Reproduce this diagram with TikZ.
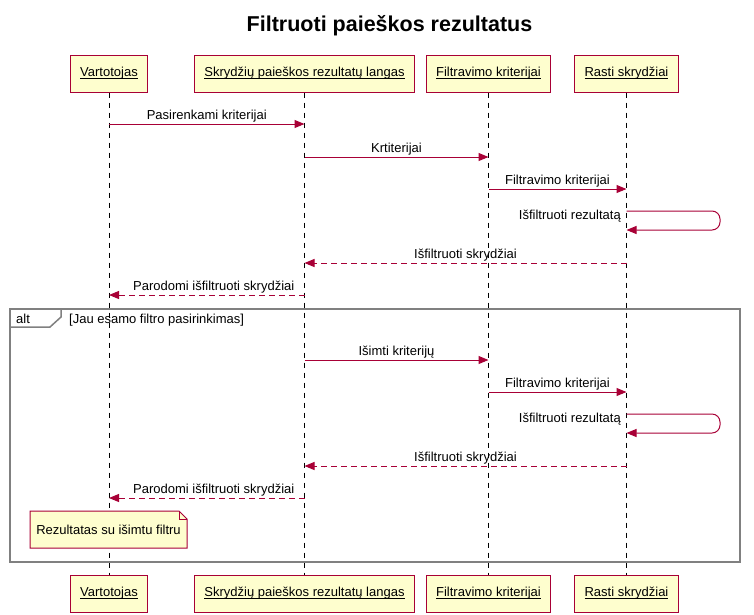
\documentclass[tikz,border=0pt]{standalone}
\usepackage{fontspec}
\setmainfont{Liberation Sans}
\usetikzlibrary{arrows.meta}
\definecolor{umlred}{HTML}{A80036}
\definecolor{umlyellow}{HTML}{FEFECE}
\definecolor{framegray}{HTML}{808080}
\newcommand{\ulab}[1]{\setbox0\hbox{#1}\rlap{\rule[-1.6pt]{\wd0}{0.8pt}}\box0}

\begin{document}
\begin{tikzpicture}[x=1pt,y=-1pt,
    every node/.style={font=\fontsize{13}{15}\selectfont},
    party/.style={draw=umlred,fill=umlyellow,line width=1pt,minimum height=37pt,inner xsep=10pt},
    lifeline/.style={dash pattern=on 5pt off 5pt,line width=1pt},
    msg/.style={-{Triangle[length=10pt,width=8pt]},umlred,line width=1pt},
    reply/.style={msg,dash pattern=on 6pt off 4pt},
    lbl/.style={anchor=base,yshift=4.5pt,text=black,inner sep=0pt},
    frame/.style={draw=framegray,line width=1.5pt}]
    \useasboundingbox (0,0) rectangle (754,614);
    \node[font=\fontsize{21.5}{25}\selectfont\bfseries,anchor=base,inner sep=0pt] (title) at (389.5,31) {Filtruoti paieškos rezultatus};
    % dalyviai
    \node[party] (V) at (109,73.5) {\ulab{Vartotojas}};
    \node[party] (S) at (304.5,73.5) {\ulab{Skrydžių paieškos rezultatų langas}};
    \node[party] (F) at (488.5,73.5) {\ulab{Filtravimo kriterijai}};
    \node[party] (R) at (626.5,73.5) {\ulab{Rasti skrydžiai}};
    \node[party] (Vb) at (109,593.5) {\ulab{Vartotojas}};
    \node[party] (Sb) at (304.5,593.5) {\ulab{Skrydžių paieškos rezultatų langas}};
    \node[party] (Fb) at (488.5,593.5) {\ulab{Filtravimo kriterijai}};
    \node[party] (Rb) at (626.5,593.5) {\ulab{Rasti skrydžiai}};
    \draw[lifeline] (V) -- (Vb);
    \draw[lifeline] (S) -- (Sb);
    \draw[lifeline] (F) -- (Fb);
    \draw[lifeline] (R) -- (Rb);
    % pranesimai
    \draw[msg] (V |- 0,124) -- node[lbl]{Pasirenkami kriterijai} (S |- 0,124);
    \draw[msg] (S |- 0,157) -- node[lbl]{Krtiterijai} (F |- 0,157);
    \draw[msg] (F |- 0,189) -- node[lbl]{Filtravimo kriterijai} (R |- 0,189);
    \draw[msg,rounded corners=8pt] (R |- 0,211) -- (720,211) -- (720,230) -- (R |- 0,230);
    \node[anchor=base east,inner sep=0pt] (L1) at (621,219) {Išfiltruoti rezultatą};
    \draw[reply] (R |- 0,263) -- node[lbl]{Išfiltruoti skrydžiai} (S |- 0,263);
    \draw[reply] (S |- 0,295) -- node[lbl,xshift=7pt]{Parodomi išfiltruoti skrydžiai} (V |- 0,295);
    % alt
    \draw[frame] (10,309) rectangle (740,562);
    \draw[frame] (10,327) -- (50,327) -- (61,317) -- (61,309);
    \node[anchor=base west,inner sep=0pt] (alt) at (16,323) {alt};
    \node[anchor=base west,inner sep=0pt] (cond) at (69,323) {[Jau esamo filtro pasirinkimas]};
    \draw[msg] (S |- 0,360) -- node[lbl]{Išimti kriterijų} (F |- 0,360);
    \draw[msg] (F |- 0,392) -- node[lbl]{Filtravimo kriterijai} (R |- 0,392);
    \draw[msg,rounded corners=8pt] (R |- 0,414) -- (720,414) -- (720,433) -- (R |- 0,433);
    \node[anchor=base east,inner sep=0pt] (L2) at (621,422) {Išfiltruoti rezultatą};
    \draw[reply] (R |- 0,466) -- node[lbl]{Išfiltruoti skrydžiai} (S |- 0,466);
    \draw[reply] (S |- 0,498) -- node[lbl,xshift=7pt]{Parodomi išfiltruoti skrydžiai} (V |- 0,498);
    % pastaba
    \draw[umlred,fill=umlyellow,line width=1pt] (30,511) -- (179,511) -- (187,519) -- (187,548) -- (30,548) -- cycle;
    \draw[umlred,line width=1pt] (179,511) -- (179,519) -- (187,519);
    \node[inner sep=0pt] (note) at (108.5,530) {Rezultatas su išimtu filtru};
\end{tikzpicture}
\end{document}
